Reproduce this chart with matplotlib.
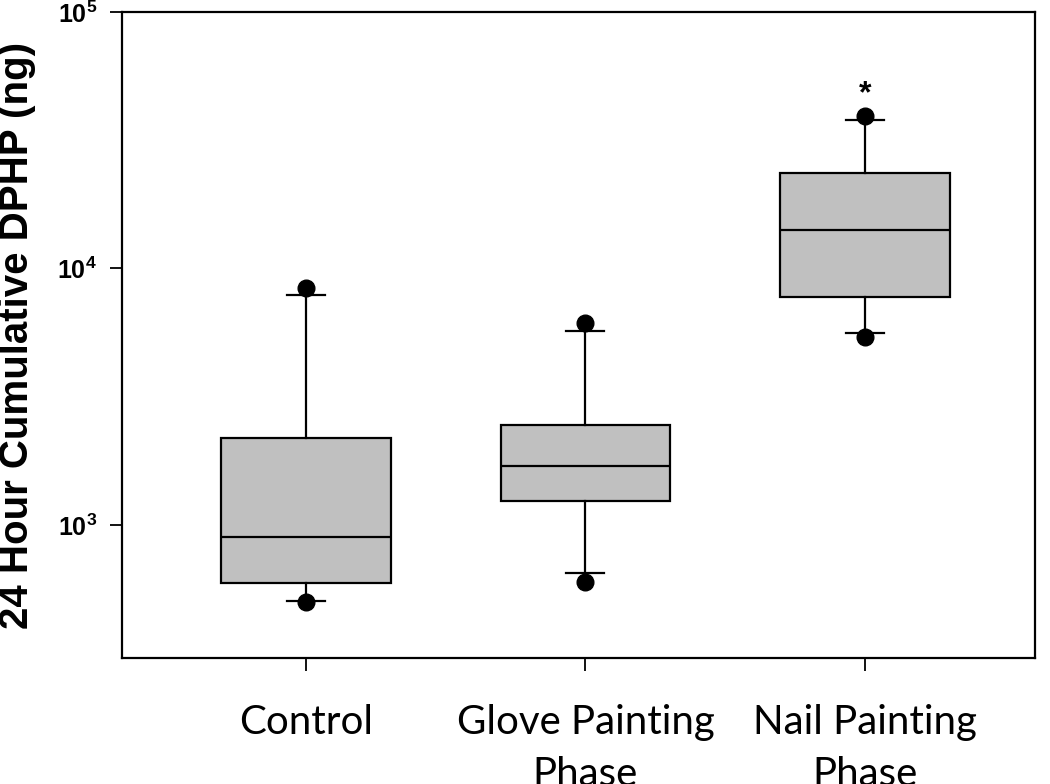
import matplotlib
matplotlib.use("Agg")
import matplotlib.pyplot as plt

# Box statistics (ng, log scale)
groups = ["Control", "Glove Painting\nPhase", "Nail Painting\nPhase"]
q1 = [594, 1240, 7740]
median = [898, 1700, 14100]
q3 = [2183, 2450, 23500]
whisker_low = [506, 650, 5610]
whisker_high = [7890, 5700, 37900]
fliers = [[500, 8400], [600, 6140], [5410, 39300]]
significant = [False, False, True]

plt.rcParams["mathtext.fontset"] = "custom"
plt.rcParams["mathtext.rm"] = "Liberation Sans:bold"
plt.rcParams["mathtext.bf"] = "Liberation Sans:bold"

fig = plt.figure(figsize=(10.5, 7.84), dpi=100)
ax = fig.add_axes([0.1162, 0.1607, 0.8695, 0.824])

stats = []
for i, name in enumerate(groups):
    stats.append(dict(label=name, q1=q1[i], med=median[i], q3=q3[i],
                      whislo=whisker_low[i], whishi=whisker_high[i],
                      fliers=fliers[i]))

lw = 1.6
ax.bxp(stats, positions=[1, 2, 3], widths=0.605, patch_artist=True,
       showfliers=True,
       boxprops=dict(facecolor="#c0c0c0", edgecolor="black", linewidth=lw),
       medianprops=dict(color="black", linewidth=lw),
       whiskerprops=dict(color="black", linewidth=lw),
       capprops=dict(color="black", linewidth=lw),
       capwidths=0.136,
       flierprops=dict(marker="o", markerfacecolor="black",
                       markeredgecolor="black", markersize=12))

# significance mark above the top outlier
for i, sig in enumerate(significant):
    if sig:
        ax.text(i + 1, max(fliers[i]) * 1.06, "*", ha="center", va="bottom",
                fontsize=23, fontweight="bold", family="Liberation Sans")

ax.set_yscale("log")
ax.set_ylim(303, 1e5)
ax.set_xlim(0.342, 3.608)
ax.set_yticks([1e3, 1e4, 1e5])
ax.set_yticklabels([r"$\mathbf{10^{3}}$", r"$\mathbf{10^{4}}$", r"$\mathbf{10^{5}}$"])
ax.yaxis.set_minor_locator(matplotlib.ticker.NullLocator())
ax.set_xticks([1, 2, 3])
ax.set_xticklabels(groups, family="Lato", linespacing=1.5)
ax.tick_params(axis="both", direction="out", length=9, width=1.3, color="black")
ax.tick_params(axis="x", pad=24, labelsize=29)
ax.tick_params(axis="y", pad=9, labelsize=18)
for s in ax.spines.values():
    s.set_linewidth(1.6)

ax.set_ylabel("24 Hour Cumulative DPHP (ng)", fontsize=29, fontweight="bold",
              family="Liberation Sans")
ax.yaxis.set_label_coords(-0.094, 0.5)

fig.savefig("out.png", dpi=100)
